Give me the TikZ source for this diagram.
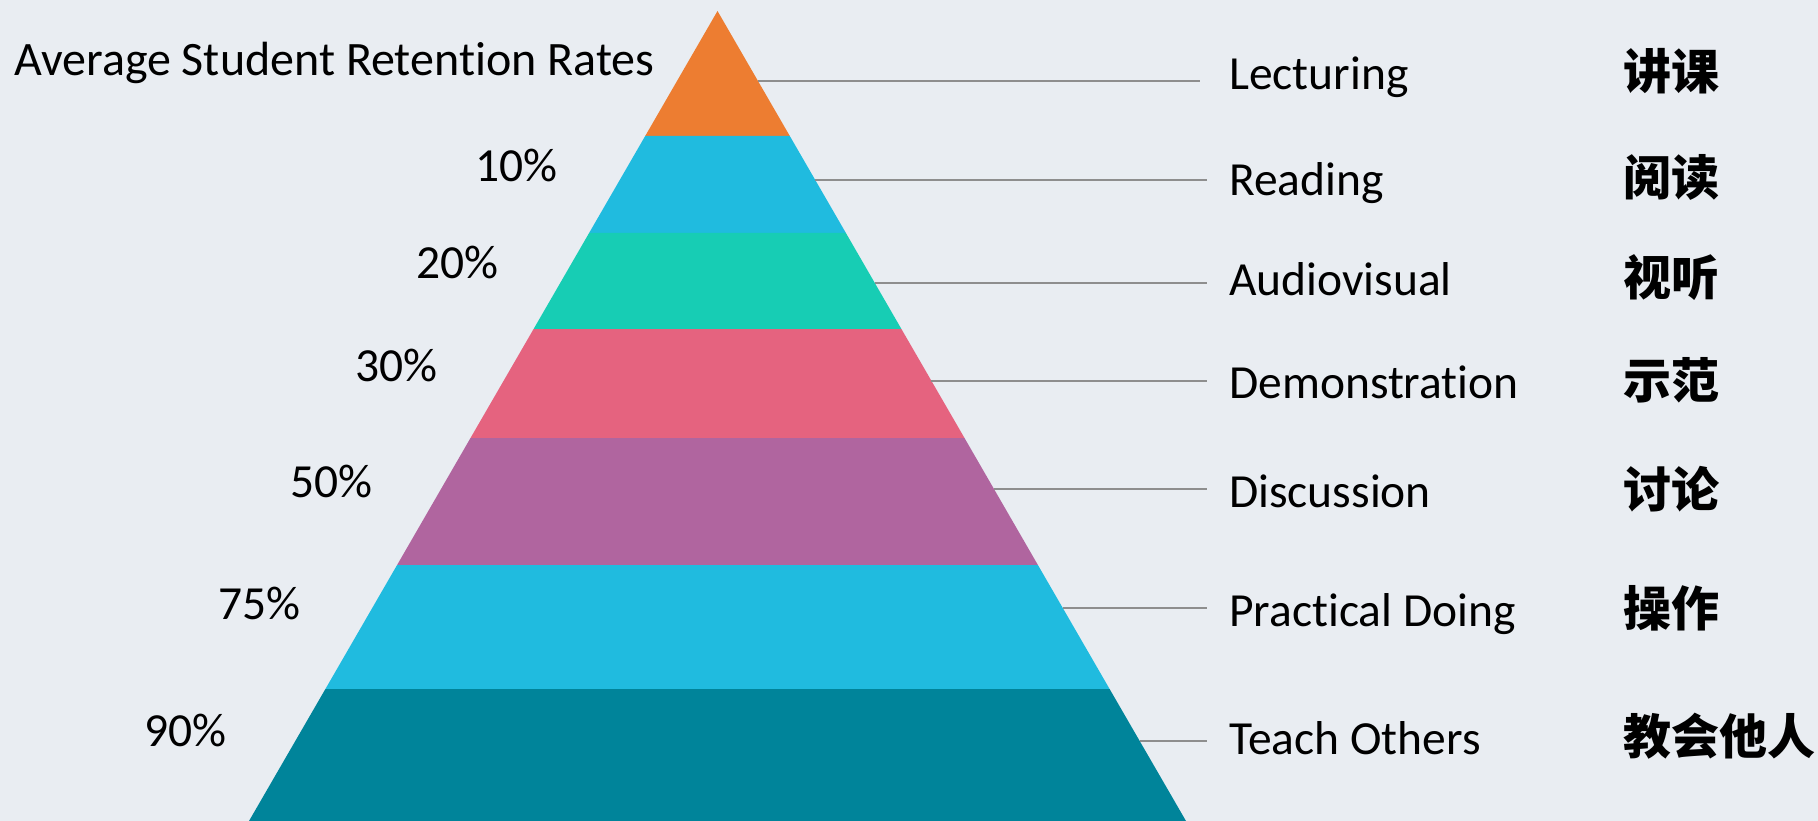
\documentclass[tikz,border=0pt]{standalone}
\usepackage{fontspec}
\setmainfont{Carlito}[Ligatures=NoCommon]
\newfontfamily\cjk{Noto Sans CJK SC}
\usepackage{tikz}
\usepackage{xcolor}
\usetikzlibrary{calc}

\definecolor{bg}{HTML}{E9EDF2}
\definecolor{lecorange}{HTML}{ED7D31}
\definecolor{readblue}{HTML}{20BBDF}
\definecolor{audteal}{HTML}{17CDB4}
\definecolor{dempink}{HTML}{E5637F}
\definecolor{dispurple}{HTML}{B0659F}
\definecolor{praccyan}{HTML}{20BBDF}
\definecolor{teachteal}{HTML}{00849A}
\definecolor{leadgray}{HTML}{8E8E8E}

\tikzset{
  txt/.style={inner sep=0pt, font=\fontsize{47.5}{56}\selectfont},
  pct/.style={txt, anchor=base east},
  lbl/.style={txt, anchor=base west},
  cn/.style={inner sep=0pt, anchor=base west, font=\cjk\bfseries\fontsize{48}{58}\selectfont},
  leader/.style={draw=leadgray, line width=2pt, shorten >=22pt}
}

\begin{document}
\begin{tikzpicture}[x=1pt,y=-1pt]
  \fill[bg] (0,0) rectangle (1818,821);
  \useasboundingbox (0,0) rectangle (1818,821);

  % pyramid layers
  \fill[lecorange] (717.5,11) -- (789.8,136) -- (645.2,136) -- cycle;
  \fill[readblue] (645.2,136) -- (789.8,136) -- (845.9,233) -- (589.1,233) -- cycle;
  \fill[audteal] (589.1,233) -- (845.9,233) -- (901.4,329) -- (533.6,329) -- cycle;
  \fill[dempink] (533.6,329) -- (901.4,329) -- (964.5,438) -- (470.5,438) -- cycle;
  \fill[dispurple] (470.5,438) -- (964.5,438) -- (1037.9,565) -- (397.1,565) -- cycle;
  \fill[praccyan] (397.1,565) -- (1037.9,565) -- (1109.6,689) -- (325.4,689) -- cycle;
  \fill[teachteal] (325.4,689) -- (1109.6,689) -- (1186,821) -- (249,821) -- cycle;

  % title and rates
  \node[lbl, font=\fontsize{48}{56}\selectfont] (title) at (14,76) {Average Student Retention Rates};
  \node[pct] (p10) at (558,182) {10\%};
  \node[pct] (p20) at (499,278) {20\%};
  \node[pct] (p30) at (438,381) {30\%};
  \node[pct] (p50) at (373,497) {50\%};
  \node[pct] (p75) at (301,619) {75\%};
  \node[pct] (p90) at (227,746) {90\%};

  % methods
  \node[lbl] (lec) at (1229,90) {Lecturing};
  \node[lbl] (read) at (1229,196) {Reading};
  \node[lbl] (aud) at (1229,295) {Audiovisual};
  \node[lbl] (dem) at (1229,398) {Demonstration};
  \node[lbl] (dis) at (1229,507) {Discussion};
  \node[lbl] (prac) at (1229,626) {Practical Doing};
  \node[lbl] (teach) at (1229,754) {Teach Others};

  \node[cn] (lecc) at (1623,90) {讲课};
  \node[cn] (readc) at (1623,196) {阅读};
  \node[cn] (audc) at (1623,295) {视听};
  \node[cn] (demc) at (1623,398) {示范};
  \node[cn] (disc) at (1623,507) {讨论};
  \node[cn] (pracc) at (1623,626) {操作};
  \node[cn] (teachc) at (1623,754) {教会他人};

  % leader lines from the right edge
  \coordinate (e1) at (757.8,80.7);
  \coordinate (e2) at (815.4,180.3);
  \coordinate (e3) at (874.6,282.7);
  \coordinate (e4) at (931.3,380.7);
  \coordinate (e5) at (994.0,489);
  \coordinate (e6) at (1062.8,608);
  \coordinate (e7) at (1139.7,741);
  \draw[leader, shorten >=29pt] (e1) -- (e1 -| lec.west);
  \draw[leader] (e2) -- (e2 -| read.west);
  \draw[leader] (e3) -- (e3 -| aud.west);
  \draw[leader] (e4) -- (e4 -| dem.west);
  \draw[leader] (e5) -- (e5 -| dis.west);
  \draw[leader] (e6) -- (e6 -| prac.west);
  \draw[leader] (e7) -- (e7 -| teach.west);
\end{tikzpicture}
\end{document}
